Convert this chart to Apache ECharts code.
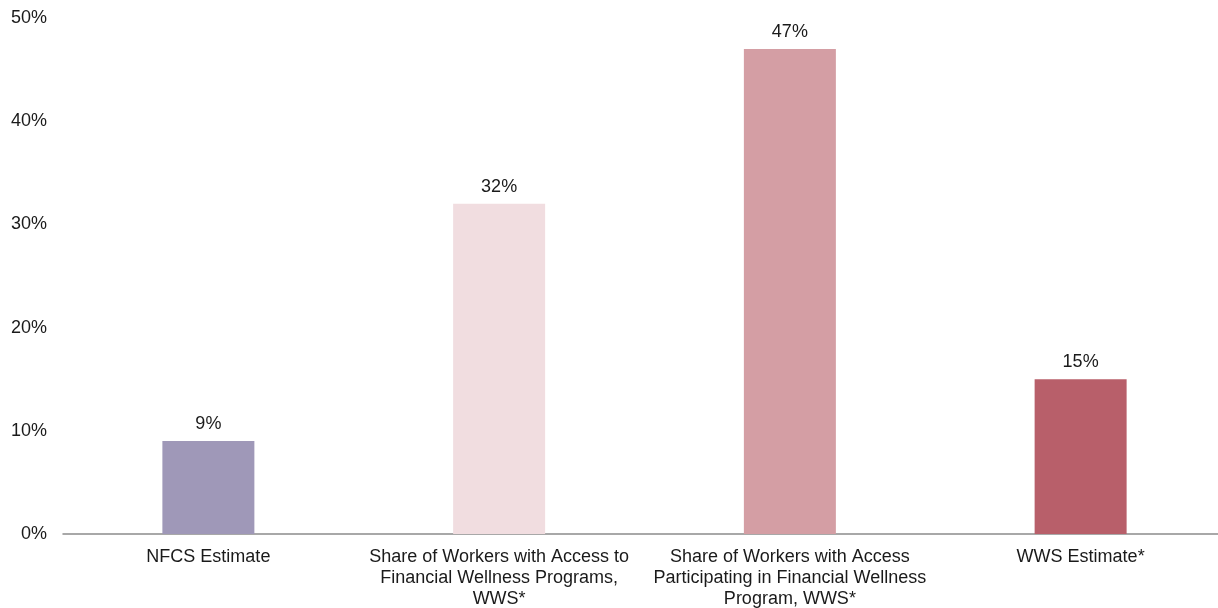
<!DOCTYPE html>
<html>
<head>
<meta charset="utf-8">
<script src="https://cdn.jsdelivr.net/npm/echarts@6/dist/echarts.min.js"></script>
<style>
  html, body { margin: 0; padding: 0; background: #fff; overflow: hidden; }
  #chart { width: 1227px; height: 608px; }
</style>
</head>
<body>
<div id="chart"></div>
<script>
const categories = [
  "NFCS Estimate",
  "Share of Workers with Access to\nFinancial Wellness Programs,\nWWS*",
  "Share of Workers with Access\nParticipating in Financial Wellness\nProgram, WWS*",
  "WWS Estimate*"
]
const values = [9, 32, 47, 15]
const barColors = ["#9f98b8", "#f1dde0", "#d49ea4", "#b85f6a"]
const yTicks = [0, 10, 20, 30, 40, 50]

const chart = echarts.init(document.getElementById("chart"))
const font = "Liberation Sans, Arial, sans-serif"

const option = {
  animation: false,
  grid: {
    left: 63,
    top: 18,
    width: 1163,
    height: 516,
    containLabel: false,
    outerBoundsMode: "none",
  },
  xAxis: {
    type: "category",
    data: categories,
    axisLine: { lineStyle: { color: "#8c8c8c", width: 1.5 } },
    axisTick: { show: false },
    axisLabel: {
      color: "#1a1a1a",
      fontFamily: font,
      fontSize: 18,
      lineHeight: 21,
      margin: 13,
      interval: 0,
      align: "center",
    },
  },
  yAxis: {
    type: "value",
    min: yTicks[0],
    max: yTicks[yTicks.length - 1],
    interval: 10,
    axisLine: { show: false },
    axisTick: { show: false },
    splitLine: { show: false },
    axisLabel: {
      color: "#1a1a1a",
      fontFamily: font,
      fontSize: 18,
      margin: 16,
      formatter: (v) => v + "%",
    },
  },
  series: [
    {
      type: "bar",
      barWidth: 92,
      data: values.map((v, i) => ({ value: v, itemStyle: { color: barColors[i] } })),
      label: {
        show: true,
        position: "top",
        distance: 8,
        color: "#1a1a1a",
        fontFamily: font,
        fontSize: 18,
        formatter: (p) => p.value + "%",
      },
    },
  ],
}

chart.setOption(option)
</script>
</body>
</html>
